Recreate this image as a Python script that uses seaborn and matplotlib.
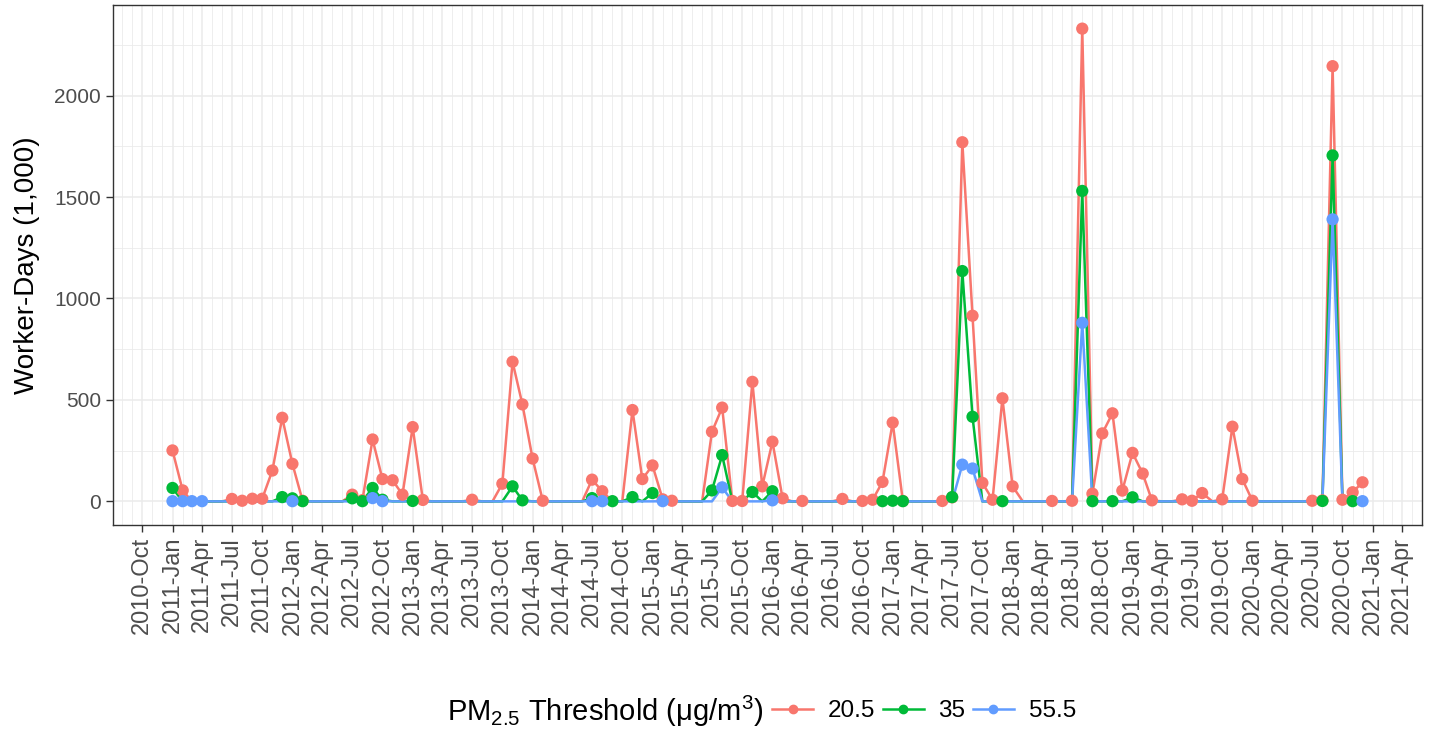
"""Worker-days above PM2.5 thresholds, monthly 2011-2020."""

import matplotlib
matplotlib.use("Agg")
import matplotlib.pyplot as plt
import matplotlib.dates as mdates
from matplotlib.lines import Line2D
from matplotlib.ticker import MultipleLocator
import pandas as pd
import seaborn as sns

# months with a recorded value (points), per threshold
months_205 = ["2011-01", "2011-02", "2011-07", "2011-08", "2011-09", "2011-10", "2011-11", "2011-12",
              "2012-01", "2012-02", "2012-07", "2012-08", "2012-09", "2012-10", "2012-11", "2012-12",
              "2013-01", "2013-02", "2013-07", "2013-10", "2013-11", "2013-12", "2014-01", "2014-02",
              "2014-07", "2014-08", "2014-11", "2014-12", "2015-01", "2015-02", "2015-03", "2015-07",
              "2015-08", "2015-09", "2015-10", "2015-11", "2015-12", "2016-01", "2016-02", "2016-04",
              "2016-08", "2016-10", "2016-11", "2016-12", "2017-01", "2017-02", "2017-06", "2017-07",
              "2017-08", "2017-09", "2017-10", "2017-11", "2017-12", "2018-01", "2018-05", "2018-07",
              "2018-08", "2018-09", "2018-10", "2018-11", "2018-12", "2019-01", "2019-02", "2019-03",
              "2019-06", "2019-07", "2019-08", "2019-10", "2019-11", "2019-12", "2020-01", "2020-07",
              "2020-08", "2020-09", "2020-10", "2020-11", "2020-12"]
values_205 = [251, 54, 12, 3, 13, 13, 152, 412,
              185, 3, 33, 6, 305, 110, 104, 33,
              366, 7, 8, 87, 688, 478, 211, 3,
              107, 50, 450, 110, 177, 10, 3, 343,
              462, 2, 2, 589, 74, 294, 15, 2,
              12, 2, 8, 96, 388, 2, 2, 20,
              1770, 915, 91, 8, 508, 74, 2, 3,
              2330, 38, 335, 434, 53, 239, 137, 5,
              10, 3, 41, 10, 368, 110, 3, 3,
              5, 2145, 8, 45, 94]

months_35 = ["2011-01", "2011-12", "2012-01", "2012-02", "2012-07", "2012-08", "2012-09", "2012-10",
             "2013-01", "2013-11", "2013-12", "2014-07", "2014-09", "2014-11", "2015-01", "2015-07",
             "2015-08", "2015-11", "2016-01", "2016-12", "2017-01", "2017-02", "2017-07", "2017-08",
             "2017-09", "2017-12", "2018-08", "2018-09", "2018-11", "2019-01", "2020-08", "2020-09",
             "2020-11"]
values_35 = [66, 21, 15, 1, 15, 1, 66, 8,
             2, 74, 5, 16, 1, 21, 41, 54,
             228, 46, 50, 1, 3, 1, 21, 1135,
             417, 1, 1530, 1, 1, 20, 2, 1705,
             1]

months_555 = ["2011-01", "2011-02", "2011-03", "2011-04", "2012-01", "2012-09", "2012-10", "2014-07",
              "2014-08", "2015-02", "2015-08", "2016-01", "2017-08", "2017-09", "2018-08", "2020-09",
              "2020-12"]
values_555 = [1, 1, 1, 1, 1, 16, 1, 1,
              1, 1, 69, 5, 181, 162, 880, 1390,
              1]

thresholds = ["20.5", "35", "55.5"]
colors = ["#F8766D", "#00BA38", "#619CFF"]

plt.rcParams["font.family"] = ["Liberation Sans", "DejaVu Sans"]
plt.rcParams["mathtext.fontset"] = "custom"
plt.rcParams["mathtext.rm"] = "Liberation Sans"
plt.rcParams["mathtext.it"] = "Liberation Sans:italic"

all_months = pd.date_range("2011-01-01", "2020-12-01", freq="MS")
point_frames = []
line_frames = []
for thr, mons, vals in zip(thresholds, [months_205, months_35, months_555],
                           [values_205, values_35, values_555]):
    s = pd.Series(vals, index=pd.to_datetime(mons))
    point_frames.append(pd.DataFrame({"month": s.index, "value": s.values, "threshold": thr}))
    full = s.reindex(all_months, fill_value=0)
    line_frames.append(pd.DataFrame({"month": full.index, "value": full.values, "threshold": thr}))
points = pd.concat(point_frames, ignore_index=True)
lines = pd.concat(line_frames, ignore_index=True)
palette = dict(zip(thresholds, colors))

fig = plt.figure(figsize=(14.3, 7.31), dpi=100)
ax = fig.add_axes([113 / 1430, 1 - 525 / 731, (1422 - 113) / 1430, (525 - 5) / 731])

sns.lineplot(data=lines, x="month", y="value", hue="threshold", hue_order=thresholds,
             palette=palette, linewidth=1.8, estimator=None, legend=False, ax=ax, zorder=2)
sns.scatterplot(data=points, x="month", y="value", hue="threshold", hue_order=thresholds,
                palette=palette, s=78, linewidth=0, legend=False, ax=ax, zorder=3)

# ggplot-style limits (5% expansion)
span = all_months[-1] - all_months[0]
ax.set_xlim(all_months[0] - span * 0.05, all_months[-1] + span * 0.05)
ymax = max(values_205)
ax.set_ylim(-0.05 * ymax, 1.05 * ymax)

ax.xaxis.set_major_locator(mdates.MonthLocator(bymonth=[1, 4, 7, 10]))
ax.xaxis.set_minor_locator(mdates.MonthLocator())
ax.xaxis.set_major_formatter(mdates.DateFormatter("%Y-%b"))
ax.yaxis.set_major_locator(MultipleLocator(500))
ax.yaxis.set_minor_locator(MultipleLocator(250))

ax.set_facecolor("white")
ax.grid(True, which="major", color="#EBEBEB", linewidth=1.1, zorder=0)
ax.grid(True, which="minor", color="#EBEBEB", linewidth=0.6, zorder=0)
ax.set_axisbelow(True)
for sp in ax.spines.values():
    sp.set_color("#333333")
    sp.set_linewidth(1.0)

ax.tick_params(axis="both", which="major", length=5, width=1, color="#333333",
               labelcolor="#4D4D4D", labelsize=15)
ax.tick_params(axis="x", which="major", labelsize=17)
ax.tick_params(axis="both", which="minor", length=0)
plt.setp(ax.get_xticklabels(), rotation=90, ha="center", va="top")

ax.set_xlabel("")
ax.set_ylabel("Worker-Days (1,000)", fontsize=20, color="black", labelpad=10)

# legend at the bottom, title to the left of the keys
fig.text(763 / 1430, 1 - 711 / 731, r"PM$_{2.5}$ Threshold (μg/m$^3$)",
         ha="right", va="center", fontsize=21)
handles = [Line2D([0], [0], color=c, linewidth=1.8, marker="o", markersize=6)
           for c in colors]
fig.legend(handles, thresholds, loc="center left", bbox_to_anchor=(772 / 1430, 1 - 711 / 731),
           ncol=3, frameon=False, fontsize=17.5, handlelength=1.7, handletextpad=0.6,
           columnspacing=0.3, borderpad=0, borderaxespad=0)

fig.savefig("out.png", dpi=100)
